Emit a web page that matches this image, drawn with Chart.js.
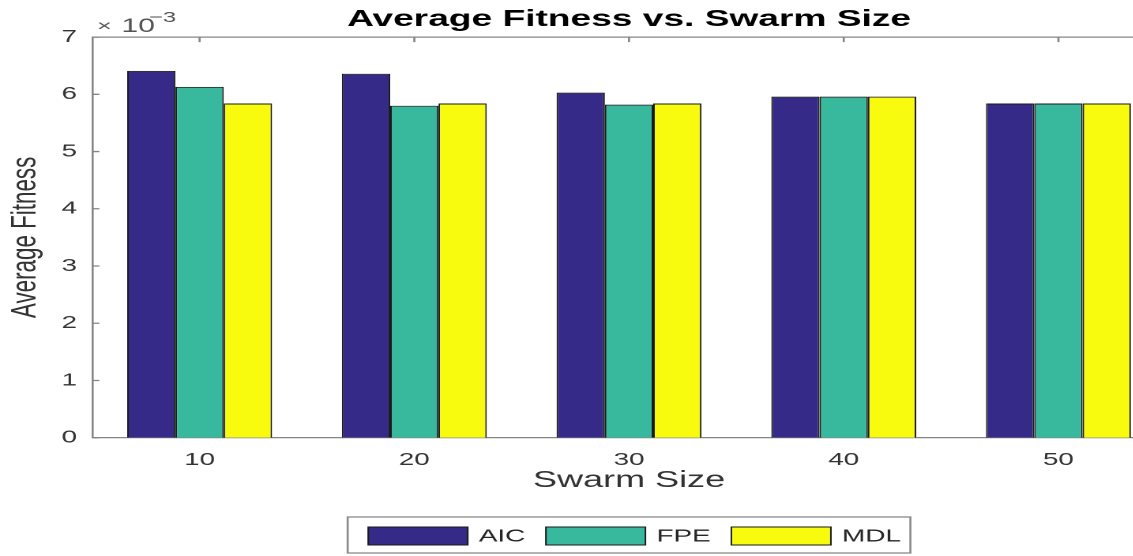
<!DOCTYPE html>
<html>
<head>
<meta charset="utf-8">
<title>Average Fitness vs. Swarm Size</title>
<script src="https://cdn.jsdelivr.net/npm/chart.js@4/dist/chart.umd.min.js"></script>
<style>
  html, body { margin: 0; padding: 0; background: #fff; overflow: hidden; width: 1133px; height: 556px; }
  #wrap { width: 1133px; height: 556px; overflow: hidden; position: relative; }
  canvas { display: block; }
</style>
</head>
<body>
<div id="wrap"><canvas id="fitness" width="797" height="556"></canvas></div>
<script>
// Swarm sizes along the x axis
const swarmSizes = ['10', '20', '30', '40', '50'];
// Average fitness for each model-order criterion, in units of 10^-3
const aicFitness = [6.41, 6.36, 6.03, 5.96, 5.84];
const fpeFitness = [6.13, 5.80, 5.82, 5.96, 5.84];
const mdlFitness = [5.84, 5.84, 5.84, 5.96, 5.84];
// Y axis tick values and the shared exponent shown above the axis
const yTicks = [0, 1, 2, 3, 4, 5, 6, 7];
const exponentLabel = ['\u00d7', '10', '\u22123'];

// The figure is drawn on a narrow canvas and widened horizontally by this factor
const STRETCH_X = 1.58;
const FONT = '"Liberation Sans", Arial, Helvetica, sans-serif';
const AXIS_GRAY = '#858585';
const TEXT_GRAY = '#333333';
const EDGE = '#1a1a1a';

// Box edge, inward tick marks, exponent label and a boxed legend
const axisFrame = {
  id: 'axisFrame',
  afterDraw(chart) {
    const { ctx, chartArea: a, scales: { x, y } } = chart;
    ctx.save();

    // top edge of the axes box
    ctx.strokeStyle = AXIS_GRAY;
    ctx.lineWidth = 1.3;
    ctx.beginPath();
    ctx.moveTo(a.left, a.top);
    ctx.lineTo(a.right, a.top);
    ctx.stroke();

    // tick marks pointing into the plot
    ctx.beginPath();
    y.ticks.forEach(t => {
      const py = y.getPixelForValue(t.value);
      ctx.moveTo(a.left, py);
      ctx.lineTo(a.left + 4.5, py);
    });
    x.ticks.forEach((t, i) => {
      const px = x.getPixelForTick(i);
      ctx.moveTo(px, a.top);
      ctx.lineTo(px, a.top + 5);
    });
    ctx.stroke();

    // exponent of the y axis: "×10" with a raised "−3"
    ctx.fillStyle = '#555';
    ctx.textAlign = 'left';
    ctx.textBaseline = 'alphabetic';
    ctx.font = `16px ${FONT}`;
    ctx.fillText(exponentLabel[0], a.left + 3, 31);
    ctx.font = `19px ${FONT}`;
    ctx.fillText(exponentLabel[1], a.left + 18.5, 32);
    ctx.font = `15px ${FONT}`;
    ctx.fillText(exponentLabel[2], a.left + 36, 22);

    // legend
    const items = chart.data.datasets.map(d => ({ label: d.label, fill: d.backgroundColor }));
    ctx.font = `17.7px ${FONT}`;
    const sw = 63, sh = 18, gap = 7, sep = 13, padL = 13, padR = 6;
    let total = padL + padR;
    items.forEach((it, i) => {
      it.tw = ctx.measureText(it.label).width;
      total += sw + gap + it.tw + (i ? sep : 0);
    });
    const bx = (a.left + a.right) / 2 - total / 2;
    const by = 517, bh = 36;
    ctx.fillStyle = '#fff';
    ctx.fillRect(bx, by, total, bh);
    ctx.strokeStyle = '#8a8a8a';
    ctx.lineWidth = 1.3;
    ctx.strokeRect(bx, by, total, bh);
    let px = bx + padL;
    ctx.textBaseline = 'middle';
    items.forEach(it => {
      ctx.fillStyle = it.fill;
      ctx.fillRect(px, 527, sw, sh);
      ctx.strokeStyle = EDGE;
      ctx.lineWidth = 1;
      ctx.strokeRect(px, 527, sw, sh);
      ctx.fillStyle = '#262626';
      ctx.fillText(it.label, px + sw + gap, 536.5);
      px += sw + gap + it.tw + sep;
    });

    ctx.restore();
  }
};

const canvas = document.getElementById('fitness');
canvas.style.width = Math.round(canvas.width * STRETCH_X) + 'px';
canvas.style.height = canvas.height + 'px';

const barStyle = { borderColor: EDGE, borderWidth: 1 };

new Chart(canvas.getContext('2d'), {
  type: 'bar',
  data: {
    labels: swarmSizes,
    datasets: [
      { label: 'AIC', data: aicFitness, backgroundColor: '#352a87', ...barStyle },
      { label: 'FPE', data: fpeFitness, backgroundColor: '#38b89d', ...barStyle },
      { label: 'MDL', data: mdlFitness, backgroundColor: '#f9fb0e', ...barStyle }
    ]
  },
  options: {
    responsive: false,
    animation: false,
    devicePixelRatio: 2,
    layout: { padding: { left: 0, right: 59, top: 0, bottom: 60 } },
    datasets: { bar: { categoryPercentage: 0.675, barPercentage: 1 } },
    plugins: {
      legend: { display: false },
      tooltip: { enabled: false },
      title: {
        display: true,
        fullSize: false,
        text: 'Average Fitness vs. Swarm Size',
        color: '#000',
        font: { family: FONT, size: 23.5, weight: 'bold' },
        padding: { top: 5.5, bottom: 3.4 }
      }
    },
    scales: {
      x: {
        grid: { display: false, drawTicks: false },
        border: { color: AXIS_GRAY, width: 1.3 },
        ticks: { color: TEXT_GRAY, font: { family: FONT, size: 17.5 }, padding: 12.2 },
        title: {
          display: true, text: 'Swarm Size', color: TEXT_GRAY,
          font: { family: FONT, size: 22.8 }, padding: { top: 0, bottom: 1.5 }
        },
        afterFit(s) { s.height = 58.3; }
      },
      y: {
        min: 0,
        max: 7,
        afterBuildTicks(s) { s.ticks = yTicks.map(v => ({ value: v })); },
        grid: { display: false, drawTicks: false },
        border: { color: AXIS_GRAY, width: 1.3 },
        ticks: { color: TEXT_GRAY, font: { family: FONT, size: 17.5 }, padding: 9.7 },
        title: {
          display: true, text: 'Average Fitness', color: TEXT_GRAY,
          font: { family: FONT, size: 22.4 }, padding: { top: 3.1, bottom: 0 }
        },
        afterFit(s) { s.width = 58.4; }
      }
    }
  },
  plugins: [axisFrame]
});
canvas.style.width = Math.round(canvas.width / 2 * STRETCH_X) + 'px';
canvas.style.height = (canvas.height / 2) + 'px';
</script>
</body>
</html>
